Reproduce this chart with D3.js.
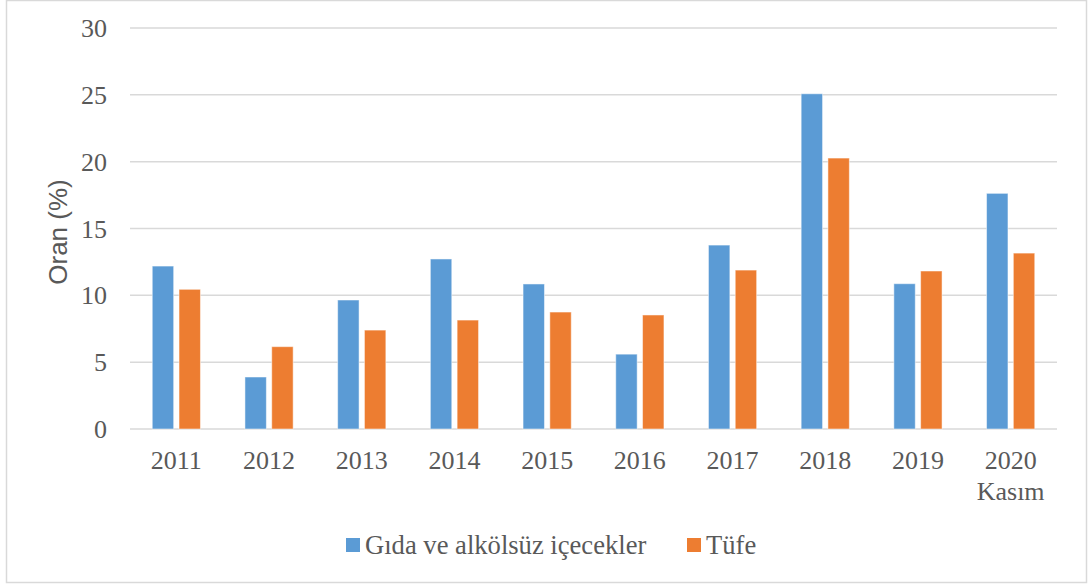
<!DOCTYPE html>
<html>
<head>
<meta charset="utf-8">
<script src="https://cdn.jsdelivr.net/npm/d3@7"></script>
<style>
  body { margin: 0; background: #fff; }
  svg { display: block; }
</style>
</head>
<body>
<div id="chart"></div>
<script>
const years = ['2011', '2012', '2013', '2014', '2015', '2016', '2017', '2018', '2019', '2020 Kasım'];
const gida = [12.19, 3.89, 9.65, 12.72, 10.85, 5.6, 13.76, 25.08, 10.87, 17.63];
const tufe = [10.45, 6.16, 7.4, 8.15, 8.75, 8.53, 11.89, 20.27, 11.82, 13.16];
const seriesNames = ['Gıda ve alkölsüz içecekler', 'Tüfe'];
const yTicks = [0, 5, 10, 15, 20, 25, 30];

const colors = ['#5b9bd5', '#ed7d31'];
const W = 1091, H = 588;
const plot = { left: 130, right: 1057, top: 28, bottom: 429 };

const svg = d3.select('#chart').append('svg')
  .attr('width', W)
  .attr('height', H);

// outer frame
svg.append('rect')
  .attr('x', 6.5).attr('y', 0.5)
  .attr('width', 1080).attr('height', 582)
  .attr('fill', '#fff')
  .attr('stroke', '#d9d9d9')
  .attr('stroke-width', 1.5);

const y = d3.scaleLinear().domain([0, 30]).range([plot.bottom, plot.top]);

const x0 = d3.scaleBand()
  .domain(years)
  .range([plot.left, plot.right])
  .paddingInner(0.48)
  .paddingOuter(0.24);

const x1 = d3.scaleBand()
  .domain([0, 1])
  .range([0, x0.bandwidth()])
  .paddingInner(0.2);

// gridlines
svg.append('g')
  .selectAll('line')
  .data(yTicks)
  .join('line')
    .attr('x1', plot.left)
    .attr('x2', plot.right)
    .attr('y1', d => y(d))
    .attr('y2', d => y(d))
    .attr('stroke', '#d9d9d9')
    .attr('stroke-width', 1.5);

// y tick labels
svg.append('g')
  .selectAll('text')
  .data(yTicks)
  .join('text')
    .attr('x', 107)
    .attr('y', d => y(d))
    .attr('dy', '0.35em')
    .attr('text-anchor', 'end')
    .attr('font-family', '"Liberation Serif", "Times New Roman", serif')
    .attr('font-size', 26)
    .attr('fill', '#595959')
    .text(d => d);

// bars
const rows = years.map((yr, i) => ({ year: yr, values: [gida[i], tufe[i]] }));

const groups = svg.append('g')
  .selectAll('g')
  .data(rows)
  .join('g')
    .attr('transform', d => `translate(${x0(d.year)},0)`);

groups.selectAll('rect')
  .data(d => d.values.map((v, k) => ({ v, k })))
  .join('rect')
    .attr('x', d => x1(d.k))
    .attr('width', x1.bandwidth())
    .attr('y', d => y(d.v))
    .attr('height', d => y(0) - y(d.v))
    .attr('fill', d => colors[d.k])
    .attr('stroke', '#fff')
    .attr('stroke-opacity', 0.5)
    .attr('stroke-width', 1);

// x labels
const xLabels = svg.append('g')
  .selectAll('text')
  .data(years)
  .join('text')
    .attr('text-anchor', 'middle')
    .attr('font-family', '"Liberation Serif", "Times New Roman", serif')
    .attr('font-size', 26)
    .attr('fill', '#595959')
    .attr('transform', d => `translate(${x0(d) + x0.bandwidth() / 2},469)`);

xLabels.selectAll('tspan')
  .data(d => d.split(' '))
  .join('tspan')
    .attr('x', 0)
    .attr('y', (d, i) => i * 31)
    .text(d => d);

// y axis title
svg.append('text')
  .attr('transform', 'translate(67,232) rotate(-90)')
  .attr('text-anchor', 'middle')
  .attr('font-family', '"Liberation Sans", Arial, sans-serif')
  .attr('font-size', 26)
  .attr('fill', '#595959')
  .text('Oran (%)');

// legend
const legendPos = [346, 687];
const legend = svg.append('g')
  .selectAll('g')
  .data(seriesNames)
  .join('g')
    .attr('transform', (d, i) => `translate(${legendPos[i]},538)`);

legend.append('rect')
  .attr('width', 14)
  .attr('height', 14)
  .attr('fill', (d, i) => colors[i]);

legend.append('text')
  .attr('x', 19)
  .attr('y', 16)
  .attr('font-family', '"Liberation Serif", "Times New Roman", serif')
  .attr('font-size', 26.6)
  .attr('fill', '#595959')
  .text(d => d);
</script>
</body>
</html>
